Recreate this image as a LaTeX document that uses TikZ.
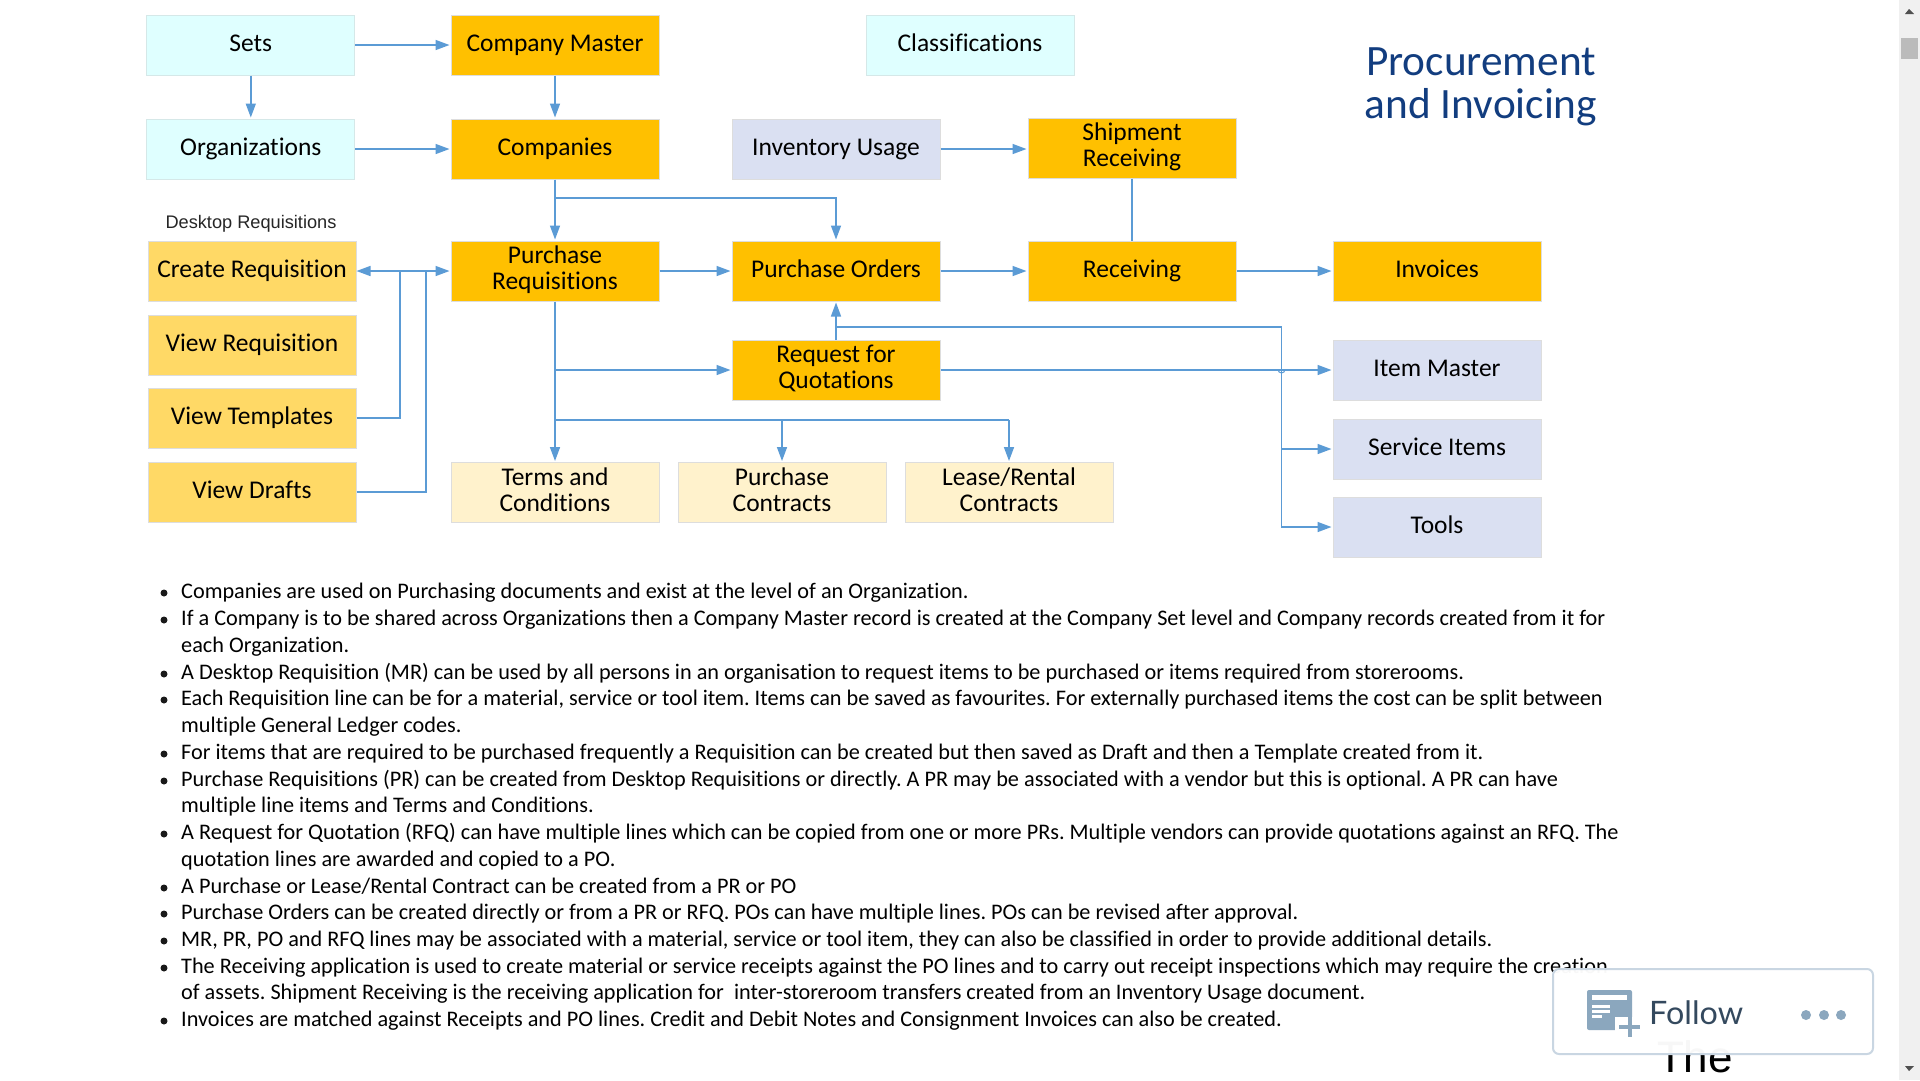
\documentclass[tikz,border=0pt]{standalone}
\usepackage{fontspec}
\setmainfont{Carlito}[Ligatures=CommonOff]
\newfontfamily\arialfont{Liberation Sans}
\newfontfamily\followfont{Lato}
\usetikzlibrary{arrows.meta}
\definecolor{wirecol}{HTML}{5B9BD5}
\definecolor{cyanbox}{HTML}{DFFFFF}
\definecolor{cyanline}{HTML}{D5E8E8}
\definecolor{goldbox}{HTML}{FFC000}
\definecolor{yellowbox}{HTML}{FFD966}
\definecolor{creambox}{HTML}{FFF2CC}
\definecolor{bluebox}{HTML}{DAE0F2}
\definecolor{greyline}{HTML}{DDDDDD}
\definecolor{titlecol}{HTML}{123D7F}
\definecolor{slatecol}{HTML}{8BA7BE}
\definecolor{cardline}{HTML}{C9D6E2}
\definecolor{followcol}{HTML}{34495E}
\definecolor{barcol}{HTML}{F0F0F0}
\definecolor{thumbcol}{HTML}{BBBBBB}
\definecolor{arrowcol}{HTML}{505050}
\newcommand{\boxstrut}{\rule[-6.4pt]{0pt}{26pt}}
\tikzset{
    box/.style={minimum width=208pt,minimum height=60pt,inner sep=0pt,line width=1pt,align=center,
        font=\fontsize{25.5}{26}\selectfont,execute at begin node=\boxstrut},
    master/.style={box,fill=cyanbox,draw=cyanline},
    main/.style={box,fill=goldbox,draw=greyline},
    desktop/.style={box,fill=yellowbox,draw=greyline},
    contract/.style={box,fill=creambox,draw=greyline},
    item/.style={box,fill=bluebox,draw=greyline},
    wire/.style={draw=wirecol,line width=1.5pt},
    link/.style={wire,-{Triangle[length=14pt,width=10pt]},shorten >=1pt},
    bodyline/.style={anchor=base west,inner sep=0pt,yshift=-.5pt,font=\fontsize{22.25}{26}\selectfont},
}
\frenchspacing
\begin{document}
\begin{tikzpicture}[x=1pt,y=-1pt]
    \useasboundingbox[fill=white] (0,0) rectangle (1920,1080);

    \node[master] (sets) at (250.8,45) {Sets};
    \node[main] (compmaster) at (555,45) {Company Master};
    \node[master] (classif) at (970,45) {Classifications};
    \node[master] (orgs) at (250.8,149) {Organizations};
    \node[main] (companies) at (555,149) {Companies};
    \node[item] (invusage) at (836,149) {Inventory Usage};
    \node[main] (shipment) at (1132,148) {Shipment\\\boxstrut Receiving};
    \node[anchor=base,inner sep=0pt,font=\arialfont\fontsize{18.2}{20}\selectfont,text=black!85] (desklabel) at (251,228) {Desktop Requisitions};

    \node[desktop] (createreq) at (252,271) {Create Requisition};
    \node[desktop] (viewreq) at (252,345) {View Requisition};
    \node[desktop] (viewtempl) at (252,418) {View Templates};
    \node[desktop] (viewdrafts) at (252,492) {View Drafts};

    \node[main] (purchreq) at (555,271) {Purchase\\\boxstrut Requisitions};
    \node[main] (purchord) at (836,271) {Purchase Orders};
    \node[main] (receiving) at (1132,271) {Receiving};
    \node[main] (invoices) at (1437,271) {Invoices};
    \node[main] (rfq) at (836,370) {Request for\\\boxstrut Quotations};

    \node[contract] (terms) at (555,492.5) {Terms and\\\boxstrut Conditions};
    \node[contract] (purchcon) at (782,492.5) {Purchase\\\boxstrut Contracts};
    \node[contract] (leasecon) at (1009,492.5) {Lease/Rental\\\boxstrut Contracts};

    \node[item] (itemmaster) at (1437,370) {Item Master};
    \node[item] (service) at (1437,449) {Service Items};
    \node[item] (tools) at (1437,527) {Tools};

    \node[anchor=base,inner sep=0pt,align=center,text=titlecol,font=\fontsize{43.3}{43}\selectfont] (title) at (1481,118) {Procurement\\and Invoicing};

    % connectors
    \draw[link] (sets) -- (compmaster);
    \draw[link] (sets) -- (orgs);
    \draw[link] (orgs) -- (companies);
    \draw[link] (compmaster) -- (companies);
    \draw[link] (companies) -- (purchreq);
    \coordinate (porise) at (555,198);
    \draw[link] (porise) -| (purchord);
    \draw[link] (invusage) -- (invusage-|shipment.west);
    \draw[wire] (shipment) -- (receiving);
    \draw[link] (purchreq) -- (purchord);
    \draw[link] (purchord) -- (receiving);
    \draw[link] (receiving) -- (invoices);
    \draw[link,{Triangle[length=14pt,width=10pt]}-{Triangle[length=14pt,width=10pt]}] (createreq) -- (purchreq);
    \draw[wire] (viewtempl.east) -| (400,271);
    \draw[wire] (viewdrafts.east) -| (426,271);

    \coordinate (rfqbranch) at (555,370);
    \coordinate (conbranch) at (555,420);
    \draw[link] (purchreq) -- (terms);
    \draw[link] (rfqbranch) -- (rfq);
    \draw[wire] (conbranch) -- (conbranch-|leasecon);
    \draw[link] (conbranch-|purchcon) -- (purchcon);
    \draw[link] (conbranch-|leasecon) -- (leasecon);

    \coordinate (itemrise) at (836,327);
    \coordinate (itemcorner) at (1281.5,327);
    \draw[link] (rfq) -- (purchord);
    \draw[wire] (itemrise) -- (itemcorner);
    \draw[link] (itemcorner) |- (tools);
    \draw[link] (rfq) -- (itemmaster);
    \draw[link] (service-|itemcorner) -- (service);
    \draw[wirecol,line width=1pt] (1278,369.5) arc (180:0:3.5);

    % bullet text
    \foreach \ypos in {598,625,679,705,759,786,839,893,919,946,973,1026}{
        \fill[black!90] (164,\ypos) ++(0,-5) circle (3.5);
    }
    \node[bodyline] (l1) at (181,598) {Companies are used on Purchasing documents and exist at the level of an Organization.};
    \node[bodyline] (l2) at (181,625) {If a Company is to be shared across Organizations then a Company Master record is created at the Company Set level and Company records created from it for};
    \node[bodyline] (l3) at (181,652) {each Organization.};
    \node[bodyline] (l4) at (181,679) {A Desktop Requisition (MR) can be used by all persons in an organisation to request items to be purchased or items required from storerooms.};
    \node[bodyline] (l5) at (181,705) {Each Requisition line can be for a material, service or tool item. Items can be saved as favourites. For externally purchased items the cost can be split between};
    \node[bodyline] (l6) at (181,732) {multiple General Ledger codes.};
    \node[bodyline] (l7) at (181,759) {For items that are required to be purchased frequently a Requisition can be created but then saved as Draft and then a Template created from it.};
    \node[bodyline] (l8) at (181,786) {Purchase Requisitions (PR) can be created from Desktop Requisitions or directly. A PR may be associated with a vendor but this is optional. A PR can have};
    \node[bodyline] (l9) at (181,812) {multiple line items and Terms and Conditions.};
    \node[bodyline] (l10) at (181,839) {A Request for Quotation (RFQ) can have multiple lines which can be copied from one or more PRs. Multiple vendors can provide quotations against an RFQ. The};
    \node[bodyline] (l11) at (181,866) {quotation lines are awarded and copied to a PO.};
    \node[bodyline] (l12) at (181,893) {A Purchase or Lease/Rental Contract can be created from a PR or PO};
    \node[bodyline] (l13) at (181,919) {Purchase Orders can be created directly or from a PR or RFQ. POs can have multiple lines. POs can be revised after approval.};
    \node[bodyline] (l14) at (181,946) {MR, PR, PO and RFQ lines may be associated with a material, service or tool item, they can also be classified in order to provide additional details.};
    \node[bodyline] (l15) at (181,973) {The Receiving application is used to create material or service receipts against the PO lines and to carry out receipt inspections which may require the creation};
    \node[bodyline] (l16) at (181,999) {of assets. Shipment Receiving is the receiving application for\ \ inter-storeroom transfers created from an Inventory Usage document.};
    \node[bodyline] (l17) at (181,1026) {Invoices are matched against Receipts and PO lines. Credit and Debit Notes and Consignment Invoices can also be created.};

    % follow card
    \node[anchor=base,inner sep=0pt,font=\arialfont\fontsize{44}{44}\selectfont] (thetext) at (1695,1072) {The};
    \draw[fill=white,fill opacity=.97,draw=cardline,line width=2pt,rounded corners=6pt] (1553,969) rectangle (1873,1054);
    \fill[slatecol,rounded corners=2pt] (1587,990) rectangle (1632,1030);
    \fill[white] (1592,995) rectangle (1627,1000);
    \fill[white] (1592,1005) rectangle (1610,1007.5);
    \fill[white] (1592,1010) rectangle (1610,1012.5);
    \fill[white] (1592,1015) rectangle (1602,1017.5);
    \fill[white] (1615,1017) rectangle (1640,1040);
    \fill[slatecol] (1619,1025) rectangle (1640,1029);
    \fill[slatecol] (1627.5,1017) rectangle (1631.5,1037);
    \node[anchor=base west,inner sep=0pt,text=followcol,font=\followfont\fontsize{32.3}{34}\selectfont] (followtext) at (1649,1024) {Follow};
    \foreach \xpos in {1806,1824,1841}{
        \fill[slatecol] (\xpos,1015) circle (5);
    }

    % scrollbar
    \fill[barcol] (1899,0) rectangle (1920,1080);
    \fill[thumbcol] (1901,38) rectangle (1918,59);
    \fill[arrowcol] (1905,14) -- (1909,9) -- (1914,14) -- cycle;
    \fill[arrowcol] (1905,1066) -- (1909,1071) -- (1914,1066) -- cycle;
\end{tikzpicture}
\end{document}
